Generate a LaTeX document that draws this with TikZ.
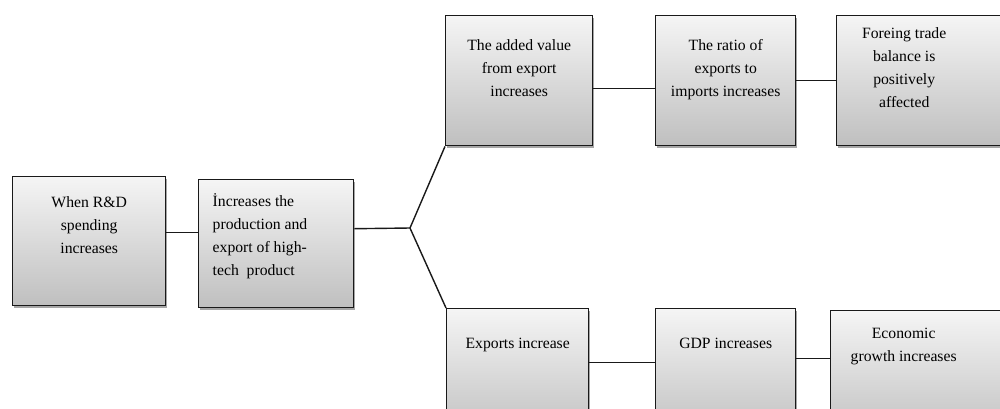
\documentclass[tikz,border=0pt]{standalone}
\usepackage{fontspec}
\setmainfont{Liberation Serif}
\usetikzlibrary{shadows}

% top-aligned box text: width, height, gap above, text
\newcommand{\boxtext}[4]{\parbox[t][#2][t]{#1}{\vspace*{#3}#4}}

\begin{document}
\begin{tikzpicture}[x=1pt,y=-1pt,
    font=\fontsize{15.7}{23}\selectfont,
    chainbox/.style={draw=black!90,line width=1.4pt,top color=black!4,bottom color=black!25,
        inner sep=0pt,anchor=north west,
        drop shadow={shadow xshift=1.3pt,shadow yshift=-1.8pt,opacity=0.7}},
    link/.style={line width=1.4pt,black!90}]
    \useasboundingbox (0,0) rectangle (1000,408);
    \clip (0,0) rectangle (1000,408);

    % Boxes
    \node[chainbox] (rd) at (12,176)
        {\boxtext{153pt}{129pt}{15pt}{\centering\strut When R\&D\\ spending\\ increases}};
    \node[chainbox] (hitech) at (198,179)
        {\boxtext{155pt}{128pt}{11pt}{\raggedright\leftskip=14pt\strut İncreases the\\ production and\\ export of high-\\ tech~ product}};

    % Upper branch
    \node[chainbox] (added) at (445,15)
        {\boxtext{147pt}{130pt}{19pt}{\centering\strut The added value\\ from export\\ increases}};
    \node[chainbox] (ratio) at (655,15)
        {\boxtext{140pt}{130pt}{19pt}{\centering\strut The ratio of\\ exports to\\ imports increases}};
    \node[chainbox] (trade) at (836,15)
        {\boxtext{175pt}{130pt}{7pt}{\centering\rightskip=40pt plus 1fil\strut Foreing trade\\ balance is\\ positively\\ affected}};

    % Lower branch
    \node[chainbox] (exports) at (446,308)
        {\boxtext{142pt}{130pt}{24pt}{\centering\strut Exports increase}};
    \node[chainbox] (gdp) at (655,308)
        {\boxtext{140pt}{130pt}{24pt}{\centering\strut GDP increases}};
    \node[chainbox] (growth) at (830,310)
        {\boxtext{181pt}{130pt}{12pt}{\centering\rightskip=35pt plus 1fil\strut Economic\\ growth increases}};

    % Connectors
    \coordinate (fork) at (410,228);
    \draw[link] ([yshift=8.5pt]rd.east) -- ([yshift=11pt]hitech.west);
    \draw[link] ([yshift=15pt]hitech.east) -- (fork);
    \draw[link] (fork) -- (added.south west);
    \draw[link] (fork) -- (exports.north west);
    \draw[link] ([yshift=-8pt]added.east) -- ([yshift=-8pt]ratio.west);
    \draw[link] (ratio.east) -- (trade.west);
    \draw[link] ([yshift=11pt]exports.east) -- ([yshift=11pt]gdp.west);
    \draw[link] ([yshift=15pt]gdp.east) -- ([yshift=17pt]growth.west);
\end{tikzpicture}
\end{document}
